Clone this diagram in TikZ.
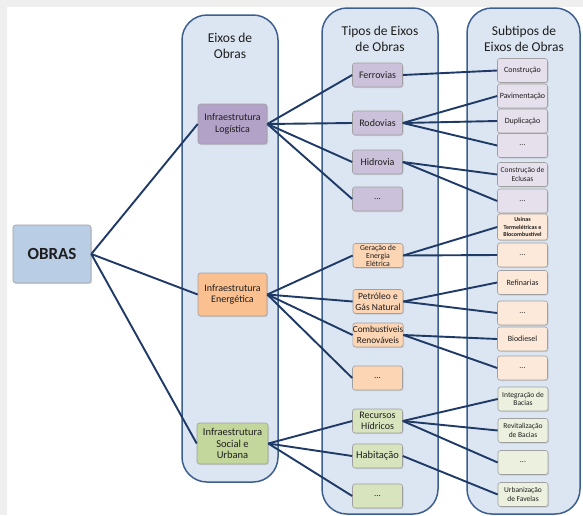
\documentclass[tikz,border=0pt]{standalone}
\usepackage{fontspec}
\setmainfont{Carlito}
\usetikzlibrary{shadows}
\definecolor{colfill}{HTML}{DCE6F2}
\definecolor{coldraw}{HTML}{3D5F8F}
\definecolor{link}{HTML}{1F3A66}
\definecolor{nodeedge}{HTML}{A0A0A0}
\definecolor{obrasfill}{HTML}{B9CDE5}
\definecolor{purA}{HTML}{B3A2C7}
\definecolor{purB}{HTML}{CCC1DA}
\definecolor{purC}{HTML}{E6E0EC}
\definecolor{orA}{HTML}{FAC090}
\definecolor{orB}{HTML}{FCD5B5}
\definecolor{orC}{HTML}{FDE9D9}
\definecolor{grA}{HTML}{C3D69B}
\definecolor{grB}{HTML}{D7E4BD}
\definecolor{grC}{HTML}{EBF1DE}
\definecolor{txt}{HTML}{1E1E1E}
\definecolor{frame}{HTML}{EFEFEF}
\newcommand{\fs}[2]{\fontsize{#1}{#2}\selectfont}
\begin{document}
\begin{tikzpicture}[x=1pt,y=-1pt,
  column/.style={draw=coldraw,fill=colfill,line width=1.5pt,rounded corners=25pt},
  box/.style={draw=nodeedge,line width=0.6pt,rounded corners=2.5pt,align=center,
    inner sep=0pt,text=txt,drop shadow={opacity=0.25,shadow xshift=1pt,shadow yshift=-1pt}},
  lbox/.style={box,minimum width=69pt,minimum height=41pt},
  mbox/.style={box,minimum width=50pt,minimum height=24pt},
  rbox/.style={box,minimum width=50pt,minimum height=24pt},
  hdr/.style={align=center,text=txt,font=\fs{13.5}{16.5}},
  link/.style={draw=link,line width=1.9pt}
]
\useasboundingbox (0,0) rectangle (583,515);
\fill[frame] (0,0) rectangle (583,515);
\fill[white] (7,7) rectangle (583,515);

% columns
\draw[column] (182,15) rectangle (278,482);
\draw[column] (322,8) rectangle (438,514);
\draw[column] (467,8) rectangle (580,514);

\node[hdr] (h1) at (230,46) {Eixos de\\Obras};
\node[hdr] (h2) at (380,39) {Tipos de Eixos\\de Obras};
\node[hdr] (h3) at (524,39) {Subtipos de\\Eixos de Obras};

% root
\node[box,fill=obrasfill,minimum width=78pt,minimum height=58pt,font=\fs{17}{20}\bfseries] (obras) at (52,254) {OBRAS};

% level 1
\node[lbox,fill=purA,minimum height=40pt,font=\fs{10}{11.5}] (log) at (232.5,124) {Infraestrutura\\Logística};
\node[lbox,fill=orA,minimum height=43pt,font=\fs{10}{11.5}] (ene) at (232.5,294.5) {Infraestrutura\\Energética};
\node[lbox,fill=grA,minimum width=71pt,font=\fs{10.5}{11.2}] (soc) at (232.5,443.5) {Infraestrutura\\Social e\\Urbana};

% level 2
\node[mbox,fill=purB,font=\fs{10}{11}] (fer) at (377.5,75) {Ferrovias};
\node[mbox,fill=purB,font=\fs{10}{11}] (rod) at (377.5,123) {Rodovias};
\node[mbox,fill=purB,font=\fs{10}{11}] (hid) at (377.5,162) {Hidrovia};
\node[mbox,fill=purB,font=\fs{9}{11}] (pdots) at (377.5,199) {...};
\node[mbox,fill=orB,font=\fs{7.8}{8}] (ger) at (378,255.5) {Geração de\\Energia\\Elétrica};
\node[mbox,fill=orB,font=\fs{9.5}{11}] (pet) at (378,301.5) {Petróleo e\\Gás Natural};
\node[mbox,fill=orB,font=\fs{9.3}{11}] (com) at (378,335) {Combustíveis\\Renováveis};
\node[mbox,fill=orB,font=\fs{9}{11}] (odots) at (377.5,378) {...};
\node[mbox,fill=grB,font=\fs{10}{11.5}] (rec) at (377.5,421) {Recursos\\Hídricos};
\node[mbox,fill=grB,font=\fs{10.5}{12}] (hab) at (377.5,456) {Habitação};
\node[mbox,fill=grB,font=\fs{9}{11}] (gdots) at (377.5,496) {...};

% level 3
\node[rbox,fill=purC,font=\fs{8}{9}] (con) at (522.5,70.5) {Construção};
\node[rbox,fill=purC,font=\fs{8}{9}] (pav) at (522.5,96) {Pavimentação};
\node[rbox,fill=purC,font=\fs{8}{9}] (dup) at (522.5,121) {Duplicação};
\node[rbox,fill=purC,font=\fs{8}{9}] (rd1) at (522.5,145.5) {...};
\node[rbox,fill=purC,font=\fs{7.5}{8.8}] (ecl) at (522.5,174.5) {Construção de\\Eclusas};
\node[rbox,fill=purC,font=\fs{8}{9}] (rd2) at (522.5,201) {...};
\node[rbox,fill=orC,minimum height=26pt,font=\fs{6}{7.3}\bfseries] (usi) at (522.5,227) {Usinas\\Termelétricas e\\Biocombustível};
\node[rbox,fill=orC,font=\fs{8}{9}] (od1) at (522.5,255) {...};
\node[rbox,fill=orC,font=\fs{8}{9}] (ref) at (522.5,282.5) {Refinarias};
\node[rbox,fill=orC,font=\fs{8}{9}] (od2) at (522.5,313) {...};
\node[rbox,fill=orC,font=\fs{8}{9}] (bio) at (522.5,339) {Biodiesel};
\node[rbox,fill=orC,font=\fs{8}{9}] (od3) at (522.5,368) {...};
\node[rbox,fill=grC,font=\fs{7.5}{8.8}] (int) at (523,399) {Integração de\\Bacias};
\node[rbox,fill=grC,font=\fs{7.5}{8.8}] (rev) at (523,430.5) {Revitalização\\de Bacias};
\node[rbox,fill=grC,font=\fs{8}{9}] (gd) at (523,462.5) {...};
\node[rbox,fill=grC,font=\fs{7.5}{8.8}] (urb) at (523,494.5) {Urbanização\\de Favelas};

% connectors
\foreach \t in {log,ene,soc} \draw[link] (obras.east) -- (\t.west);
\foreach \t in {fer,rod,hid,pdots} \draw[link] (log.east) -- (\t.west);
\foreach \t in {ger,pet,com,odots} \draw[link] (ene.east) -- (\t.west);
\foreach \t in {rec,hab,gdots} \draw[link] (soc.east) -- (\t.west);
\draw[link] (fer.east) -- (con.west);
\foreach \t in {pav,dup,rd1} \draw[link] (rod.east) -- (\t.west);
\foreach \t in {ecl,rd2} \draw[link] (hid.east) -- (\t.west);
\foreach \t in {usi,od1} \draw[link] (ger.east) -- (\t.west);
\foreach \t in {ref,od2} \draw[link] (pet.east) -- (\t.west);
\foreach \t in {bio,od3} \draw[link] (com.east) -- (\t.west);
\foreach \t in {int,rev,gd} \draw[link] (rec.east) -- (\t.west);
\draw[link] (hab.east) -- (urb.west);
\end{tikzpicture}
\end{document}
